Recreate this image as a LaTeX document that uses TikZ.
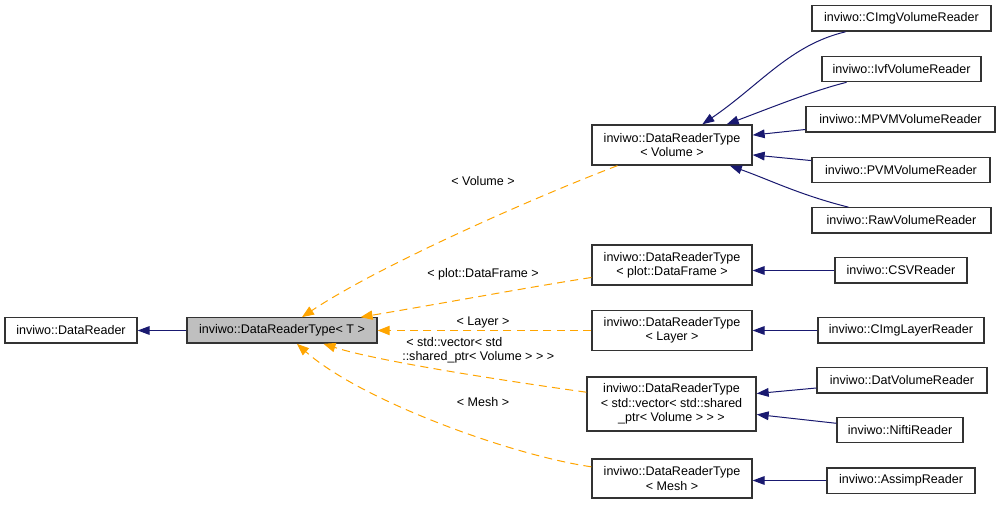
\documentclass[tikz,border=0pt]{standalone}
\usepackage{fontspec}
\setmainfont{Liberation Sans}
\usetikzlibrary{arrows.meta}
\definecolor{navy}{HTML}{191970}
\definecolor{dorange}{HTML}{FFA500}
\definecolor{boxgray}{HTML}{BFBFBF}
\begin{document}
\begin{tikzpicture}[x=0.75pt,y=-0.75pt,
  box/.style={draw=black!80, line width=1pt, fill=white, inner sep=0pt, align=center,
    font=\fontsize{9.4}{10.8}\selectfont},
  single/.style={box, minimum height=19pt},
  navyedge/.style={draw=navy, line width=0.75pt, -{Triangle[length=9pt,width=6.5pt]}},
  orangeedge/.style={draw=dorange, line width=0.75pt, dash pattern=on 6pt off 4pt,
    -{Triangle[length=9pt,width=7pt]}},
  lbl/.style={font=\fontsize{9.4}{10.8}\selectfont, inner sep=0pt}]
\useasboundingbox (0,0) rectangle (1001,506);
\fill[white] (0,0) rectangle (1001,506);

% nodes
\node[single, minimum width=99pt] (dr) at (71,330.5) {inviwo::DataReader};
\node[single, minimum width=142.5pt, fill=boxgray] (drt) at (282,330.5) {inviwo::DataReaderType< T >};

\node[box, minimum width=120pt, minimum height=30pt] (vol) at (672,145) {inviwo::DataReaderType\\< Volume >};
\node[box, minimum width=120pt, minimum height=30pt] (df) at (672,265) {inviwo::DataReaderType\\< plot::DataFrame >};
\node[box, minimum width=120pt, minimum height=30pt] (lay) at (672,330.5) {inviwo::DataReaderType\\< Layer >};
\node[box, minimum width=126.75pt, minimum height=40.5pt] (vec) at (671.5,404) {inviwo::DataReaderType\\< std::vector< std::shared\\\_ptr< Volume > > >};
\node[box, minimum width=120pt, minimum height=29.25pt] (mesh) at (672,478.5) {inviwo::DataReaderType\\< Mesh >};

\node[single, minimum width=134.25pt] (cimgv) at (901.5,18.5) {inviwo::CImgVolumeReader};
\node[single, minimum width=119.25pt] (ivf) at (901.5,69) {inviwo::IvfVolumeReader};
\node[single, minimum width=141.75pt] (mpvm) at (900.5,119.5) {inviwo::MPVMVolumeReader};
\node[single, minimum width=133.5pt] (pvm) at (901,170) {inviwo::PVMVolumeReader};
\node[single, minimum width=134.25pt] (raw) at (901.5,220.5) {inviwo::RawVolumeReader};
\node[single, minimum width=99pt] (csv) at (901,270.5) {inviwo::CSVReader};
\node[single, minimum width=124.5pt] (cimgl) at (901,330.5) {inviwo::CImgLayerReader};
\node[single, minimum width=127.5pt] (dat) at (902,380.5) {inviwo::DatVolumeReader};
\node[single, minimum width=94.5pt] (nifti) at (900,430) {inviwo::NiftiReader};
\node[single, minimum width=111pt] (assimp) at (901,480.5) {inviwo::AssimpReader};

% navy inheritance edges
\draw[navyedge] (drt.west) -- (dr.east);
\draw[navyedge] (cimgv) .. controls (790,45) and (760,85) .. (vol);
\draw[navyedge] (ivf) .. controls (815,90) and (770,108) .. (vol);
\draw[navyedge] (mpvm.186) -- (vol.7);
\draw[navyedge] (pvm.174) -- (vol.-7);
\draw[navyedge] (raw) .. controls (800,195) and (770,180) .. (vol);
\draw[navyedge] (csv.west) -- (csv.west -| df.east);
\draw[navyedge] (cimgl.west) -- (cimgl.west -| lay.east);
\draw[navyedge] (dat.185) -- (vec.7.4);
\draw[navyedge] (nifti.174) -- (vec.-7.3);
\draw[navyedge] (assimp.west) -- (assimp.west -| mesh.east);

% orange template instantiation edges
\draw[orangeedge] (vol) .. controls (540,195) and (380,265) .. (drt);
\draw[orangeedge] (df) .. controls (530,287) and (450,302) .. (drt);
\draw[orangeedge] (lay.west) -- (lay.west -| drt.east);
\draw[orangeedge] (vec) .. controls (520,383) and (380,362) .. (drt);
\draw[orangeedge] (mesh) .. controls (510,455) and (360,400) .. (drt);

% labels
\node[lbl] (lvol) at (483,181) {< Volume >};
\node[lbl] (ldf) at (483,274) {< plot::DataFrame >};
\node[lbl] (llay) at (483,322) {< Layer >};
\node[lbl, align=left, anchor=west] (lvec) at (402,350) {\hspace*{3pt}< std::vector< std\\::shared\_ptr< Volume > > >};
\node[lbl] (lmesh) at (483,402) {< Mesh >};
\end{tikzpicture}
\end{document}
